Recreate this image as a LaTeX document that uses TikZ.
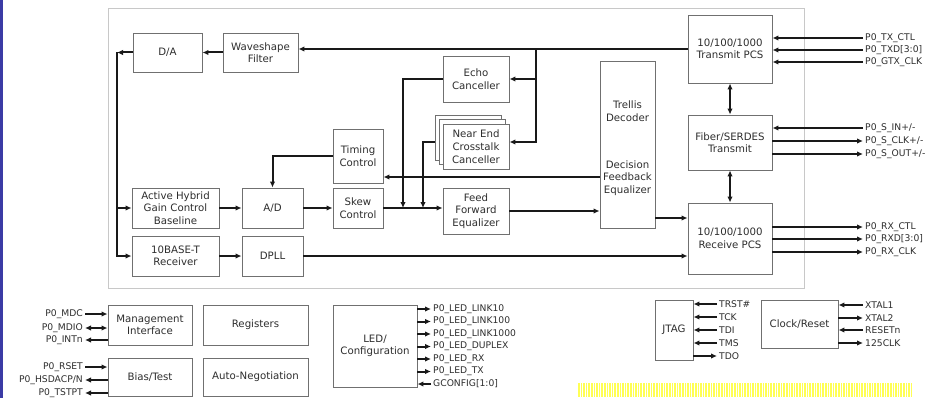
\documentclass[tikz,border=0pt]{standalone}
\usepackage{fontspec}
\setmainfont{DejaVu Sans}
\usetikzlibrary{arrows.meta}
\definecolor{boxline}{HTML}{707070}
\definecolor{txt}{HTML}{2E2E2E}
\definecolor{stripc}{HTML}{3B3BA5}
\definecolor{ylw}{HTML}{FFFF55}
\definecolor{outerc}{HTML}{C8C8C8}
\begin{document}
\begin{tikzpicture}[x=1pt,y=-1pt,
 blk/.style={draw=boxline, line width=0.9pt, fill=white, text=txt, align=center, inner sep=0pt, font=\fontsize{10.2}{12.5}\selectfont},
 lbl/.style={text=txt, align=center, inner sep=0pt, font=\fontsize{10.2}{12.5}\selectfont},
 pinl/.style={text=txt, inner xsep=2pt, inner ysep=0pt, font=\fontsize{9.2}{10}\selectfont},
 wire/.style={draw=black!90, line width=2pt},
 arr/.style={wire, -{Latex[length=6pt,width=5.5pt]}},
 rarr/.style={wire, {Latex[length=6pt,width=5.5pt]}-},
 darr/.style={wire, {Latex[length=6pt,width=5.5pt]}-{Latex[length=6pt,width=5.5pt]}},
]
\useasboundingbox (0,0) rectangle (928,398);
\fill[white] (0,0) rectangle (928,398);
\fill[stripc] (0,0) rectangle (3,398);
\draw[outerc, line width=0.8pt] (108,8) rectangle (804,288);
\fill[ylw] (577,383) rectangle (913,397);
\draw[white, line width=0.6pt, step=2.6] (577,383) grid (913,397);

% main blocks
\node[blk, minimum width=69pt, minimum height=39pt] (da) at (167.5,52.5) {D/A};
\node[blk, minimum width=75pt, minimum height=39pt] (wsf) at (260.5,52.5) {Waveshape\\Filter};
\node[blk, minimum width=87pt, minimum height=40pt] (ahg) at (175.5,208) {Active Hybrid\\Gain Control\\Baseline};
\node[blk, minimum width=87pt, minimum height=40pt] (tbt) at (175.5,256) {10BASE-T\\Receiver};
\node[blk, minimum width=61pt, minimum height=40pt] (ad) at (272.5,208) {A/D};
\node[blk, minimum width=61pt, minimum height=40pt] (dpll) at (272.5,256) {DPLL};
\node[blk, minimum width=50pt, minimum height=54pt] (tim) at (358,156) {Timing\\Control};
\node[blk, minimum width=50pt, minimum height=40pt] (skew) at (358,208) {Skew\\Control};
\node[blk, minimum width=66pt, minimum height=46pt] (ffe) at (476,211) {Feed\\Forward\\Equalizer};
\node[blk, minimum width=66pt, minimum height=46pt] (echo) at (476,79) {Echo\\Canceller};
\node[blk, minimum width=66pt, minimum height=45pt] (nxtb) at (468,137.5) {};
\node[blk, minimum width=66pt, minimum height=45pt] (nxtm) at (472,142) {};
\node[blk, minimum width=66pt, minimum height=45pt, font=\fontsize{10.2}{13}\selectfont] (nxtf) at (476,146.5) {Near End\\Crosstalk\\Canceller};
\node[blk, minimum width=55pt, minimum height=167pt] (dfe) at (627.5,144.5) {};
\node[lbl] (trel) at (627.5,111) {Trellis\\Decoder};
\node[lbl] (dfel) at (627.5,178) {Decision\\Feedback\\Equalizer};
\node[blk, minimum width=84pt, minimum height=68pt] (tpcs) at (730,49) {10/100/1000\\Transmit PCS};
\node[blk, minimum width=84pt, minimum height=55pt] (fib) at (730,142.5) {Fiber/SERDES\\Transmit};
\node[blk, minimum width=84pt, minimum height=71pt] (rpcs) at (730,238.5) {10/100/1000\\Receive PCS};

% bottom blocks
\node[blk, minimum width=84pt, minimum height=40pt] (mgmt) at (150,325) {Management\\Interface};
\node[blk, minimum width=105pt, minimum height=40pt] (reg) at (255.5,325) {Registers};
\node[blk, minimum width=84pt, minimum height=38pt] (bias) at (150,377) {Bias/Test};
\node[blk, minimum width=105pt, minimum height=38pt] (auto) at (255.5,377) {Auto-Negotiation};
\node[blk, minimum width=84pt, minimum height=82pt] (led) at (375,346) {LED/\\Configuration};
\node[blk, minimum width=38pt, minimum height=60pt] (jtag) at (674,330) {JTAG};
\node[blk, minimum width=77pt, minimum height=48pt] (clk) at (799.5,324) {Clock/Reset};

% internal connectors
\coordinate (j1) at (536,49);
\coordinate (lb) at (117,52.5);
\coordinate (ejoin) at (403,208);
\coordinate (njoin) at (423,208);
\draw[arr] (tpcs.west) -- (tpcs.west -| wsf.east);
\draw[arr] (j1) |- (echo.east);
\draw[arr] (j1) |- (nxtf.east |- nxtm.west);
\draw[arr] (wsf.west) -- (da.east);
\draw[arr] (da.west) -- (lb);
\draw[arr] (lb) |- (ahg.west);
\draw[arr] (lb) |- (tbt.west);
\draw[arr] (ahg.east) -- (ad.west);
\draw[arr] (tbt.east) -- (dpll.west);
\draw[arr] (ad.east) -- (skew.west);
\draw[arr] (skew.east) -- (skew.east -| ffe.west);
\draw[arr] (echo.west) -| (ejoin);
\draw[arr] (nxtb.west |- nxtm.west) -| (njoin);
\draw[arr] (tim.west) -| (ad.north);
\draw[arr] (dfe.west |- 0,177) -- (tim.east |- 0,177);
\draw[arr] (ffe.east) -- (ffe.east -| dfe.west);
\draw[arr] (dfe.east |- 0,218) -- (rpcs.west |- 0,218);
\draw[arr] (dpll.east) -- (dpll.east -| rpcs.west);
\draw[darr] (tpcs.south) -- (fib.north);
\draw[darr] (fib.south) -- (rpcs.north);

% right pins
\node[pinl, anchor=west] (p1) at (863,38) {P0\_TX\_CTL};
\node[pinl, anchor=west] (p2) at (863,50) {P0\_TXD[3:0]};
\node[pinl, anchor=west] (p3) at (863,62) {P0\_GTX\_CLK};
\node[pinl, anchor=west] (p4) at (863,128) {P0\_S\_IN+/-};
\node[pinl, anchor=west] (p5) at (863,141) {P0\_S\_CLK+/-};
\node[pinl, anchor=west] (p6) at (863,154) {P0\_S\_OUT+/-};
\node[pinl, anchor=west] (p7) at (863,227) {P0\_RX\_CTL};
\node[pinl, anchor=west] (p8) at (863,239) {P0\_RXD[3:0]};
\node[pinl, anchor=west] (p9) at (863,252) {P0\_RX\_CLK};
\draw[arr] (p1.west) -- (p1.west -| tpcs.east);
\draw[arr] (p2.west) -- (p2.west -| tpcs.east);
\draw[arr] (p3.west) -- (p3.west -| tpcs.east);
\draw[arr] (p4.west) -- (p4.west -| fib.east);
\draw[rarr] (p5.west) -- (p5.west -| fib.east);
\draw[rarr] (p6.west) -- (p6.west -| fib.east);
\draw[rarr] (p7.west) -- (p7.west -| rpcs.east);
\draw[rarr] (p8.west) -- (p8.west -| rpcs.east);
\draw[rarr] (p9.west) -- (p9.west -| rpcs.east);

% management / bias pins
\node[pinl, anchor=east] (m1) at (85,314) {P0\_MDC};
\node[pinl, anchor=east] (m2) at (85,328) {P0\_MDIO};
\node[pinl, anchor=east] (m3) at (85,340) {P0\_INTn};
\node[pinl, anchor=east] (b1) at (85,367) {P0\_RSET};
\node[pinl, anchor=east] (b2) at (85,380) {P0\_HSDACP/N};
\node[pinl, anchor=east] (b3) at (85,393) {P0\_TSTPT};
\draw[arr] (m1.east) -- (m1.east -| mgmt.west);
\draw[darr] (m2.east) -- (m2.east -| mgmt.west);
\draw[rarr] (m3.east) -- (m3.east -| mgmt.west);
\draw[arr] (b1.east) -- (b1.east -| bias.west);
\draw[rarr] (b2.east) -- (b2.east -| bias.west);
\draw[rarr] (b3.east) -- (b3.east -| bias.west);

% LED pins
\node[pinl, anchor=west] (l1) at (431,309) {P0\_LED\_LINK10};
\node[pinl, anchor=west] (l2) at (431,321.5) {P0\_LED\_LINK100};
\node[pinl, anchor=west] (l3) at (431,334) {P0\_LED\_LINK1000};
\node[pinl, anchor=west] (l4) at (431,346.5) {P0\_LED\_DUPLEX};
\node[pinl, anchor=west] (l5) at (431,359) {P0\_LED\_RX};
\node[pinl, anchor=west] (l6) at (431,371.5) {P0\_LED\_TX};
\node[pinl, anchor=west] (l7) at (431,384) {GCONFIG[1:0]};
\foreach \n in {l1,l2,l3,l4,l5,l6}{\draw[rarr] (\n.west) -- (\n.west -| led.east);}
\draw[arr] (l7.west) -- (l7.west -| led.east);

% JTAG pins
\node[pinl, anchor=west] (t1) at (717,304) {TRST\#};
\node[pinl, anchor=west] (t2) at (717,317) {TCK};
\node[pinl, anchor=west] (t3) at (717,330) {TDI};
\node[pinl, anchor=west] (t4) at (717,343) {TMS};
\node[pinl, anchor=west] (t5) at (717,356) {TDO};
\foreach \n in {t1,t2,t3,t4}{\draw[arr] (\n.west) -- (\n.west -| jtag.east);}
\draw[rarr] (t5.west) -- (t5.west -| jtag.east);

% clock pins
\node[pinl, anchor=west] (c1) at (863,305) {XTAL1};
\node[pinl, anchor=west] (c2) at (863,318) {XTAL2};
\node[pinl, anchor=west] (c3) at (863,330) {RESETn};
\node[pinl, anchor=west] (c4) at (863,343) {125CLK};
\draw[arr] (c1.west) -- (c1.west -| clk.east);
\draw[rarr] (c2.west) -- (c2.west -| clk.east);
\draw[arr] (c3.west) -- (c3.west -| clk.east);
\draw[rarr] (c4.west) -- (c4.west -| clk.east);
\end{tikzpicture}
\end{document}
